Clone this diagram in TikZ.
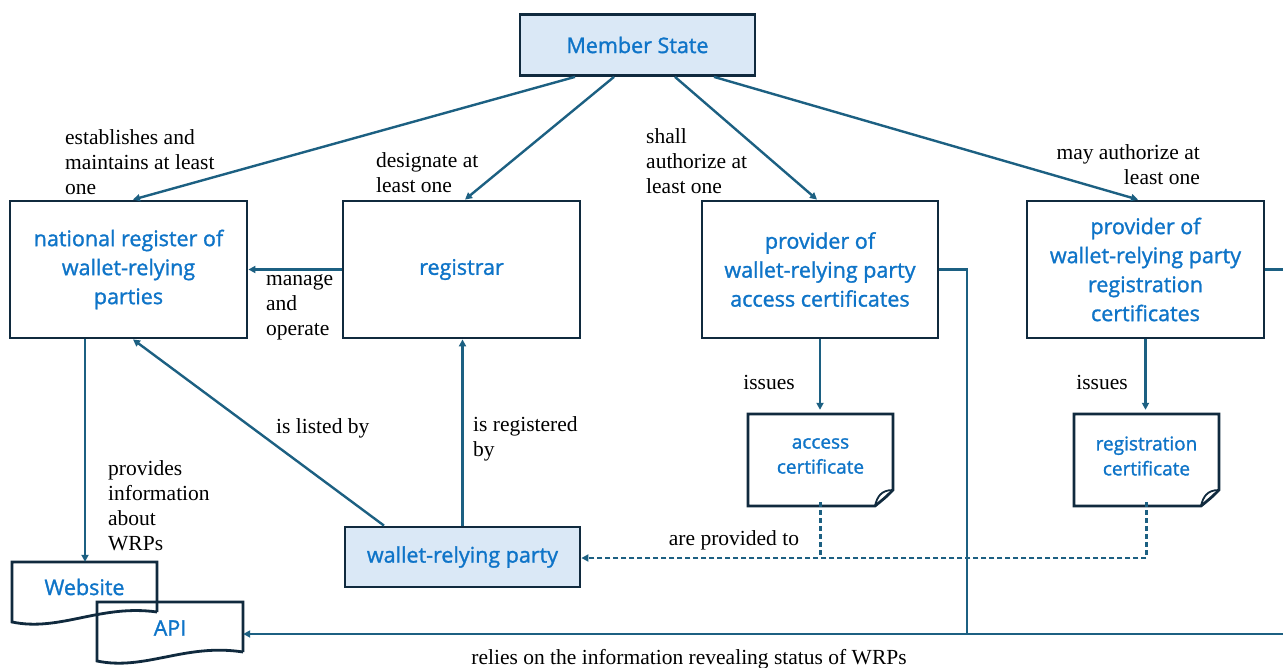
\documentclass[tikz,border=0pt]{standalone}
\usepackage{fontspec}
\setmainfont{Liberation Serif}
\newfontfamily\bluefont[FakeBold=1.3]{Open Sans}
\usetikzlibrary{arrows.meta,calc}
\definecolor{linec}{RGB}{28,96,130}
\definecolor{boxc}{RGB}{16,42,62}
\definecolor{txtblue}{RGB}{14,116,200}
\definecolor{fillb}{RGB}{218,232,246}
\begin{document}
\begin{tikzpicture}[x=1pt,y=-1pt,
  box/.style={draw=boxc,line width=2.8pt,inner sep=2pt,align=center,
    font=\bluefont\fontsize{21.5}{29}\selectfont,text=txtblue},
  certtext/.style={inner sep=0pt,align=center,
    font=\bluefont\fontsize{19}{25}\selectfont,text=txtblue},
  lbl/.style={inner sep=0pt,font=\fontsize{21.5}{25}\selectfont,text=black},
  conn/.style={draw=linec,line width=2.4pt,-{Triangle[length=7pt,width=7pt]}},
  plain/.style={draw=linec,line width=2.4pt},
  dconn/.style={draw=linec,line width=2.2pt,dash pattern=on 5pt off 3pt}
]
\useasboundingbox (0,0) rectangle (1283,668);
\fill[white] (0,0) rectangle (1283,668);

% main boxes
\node[box,fill=fillb,minimum width=235,minimum height=61] (ms) at (637.5,45) {Member State};
\node[box,minimum width=237,minimum height=137] (nr) at (128.5,269.5) {national register of\\wallet-relying\\parties};
\node[box,minimum width=237,minimum height=137] (reg) at (461.5,269.5) {registrar};
\node[box,minimum width=236,minimum height=137] (pac) at (820,269.5) {provider of\\wallet-relying party\\access certificates};
\node[box,minimum width=237,minimum height=137] (prc) at (1145.5,269.5) {provider of\\wallet-relying party\\registration\\certificates};
\node[box,fill=fillb,minimum width=235,minimum height=60] (wrp) at (462.5,557) {wallet-relying party};

% certificate shapes
\node[certtext,minimum width=145,minimum height=92] (ac) at (820.5,456) {access\\certificate};
\draw[boxc,line width=2.8pt,line join=miter] (748,414) -- (893,414) -- (893,490) .. controls (886,497) .. (875,506) -- (748,506) -- cycle;
\draw[boxc,line width=1.8pt] (893,490) .. controls (881,490) and (877,497) .. (875,506);
\node[certtext,minimum width=145,minimum height=92] (rc) at (1146.5,456) {registration\\certificate};
\draw[boxc,line width=2.8pt,line join=miter] (1074,414) -- (1219,414) -- (1219,490) .. controls (1212,497) .. (1201,506) -- (1074,506) -- cycle;
\draw[boxc,line width=1.8pt] (1219,490) .. controls (1207,490) and (1203,497) .. (1201,506);

% document shapes
\node[certtext,font=\bluefont\fontsize{21.5}{29}\selectfont,minimum width=145,minimum height=50] (web) at (84.5,587) {Website};
\draw[boxc,line width=2.8pt,line join=miter] (157,612) -- (157,562) -- (12,562) -- (12,622) .. controls (60,632) and (100,604) .. (157,612);
\node[certtext,font=\bluefont\fontsize{21.5}{29}\selectfont,minimum width=146,minimum height=50] (api) at (170,628) {API};
\draw[boxc,line width=2.8pt,line join=miter] (243,652) -- (243,602) -- (97,602) -- (97,661) .. controls (145,671) and (185,643) .. (243,652);

% connectors from Member State
\draw[conn] ([xshift=-62.5pt]ms.south) -- ([xshift=4.5pt]nr.north);
\draw[conn] ([xshift=-23.5pt]ms.south) -- ([xshift=3.5pt]reg.north);
\draw[conn] ([xshift=37.5pt]ms.south) -- ([xshift=-3pt]pac.north);
\draw[conn] ([xshift=76.5pt]ms.south) -- ([xshift=-7.5pt]prc.north);

\draw[conn] (reg.west) -- (nr.east);
\draw[conn] ([xshift=-43.5pt]nr.south) -- ([xshift=-43.5pt]nr.south |- web.north);
\draw[conn] ([xshift=-78.5pt]wrp.north) -- ([xshift=4.5pt]nr.south);
\draw[conn] (wrp.north) -- (wrp.north |- reg.south);
\draw[conn] (pac.south) -- (pac.south |- ac.north);
\draw[conn] (prc.south) -- (prc.south |- rc.north);

% dashed
\coordinate (dj) at (820.5,558);
\draw[dconn] (ac.south) -- (ac.south |- dj);
\draw[dconn,-{Triangle[length=7pt,width=7pt]}] (rc.south) |- ([yshift=-1pt]wrp.east);

% status line
\coordinate (bj) at (967,634);
\coordinate (rtop) at (1295,269.5);
\coordinate (rbot) at (1295,634);
\draw[plain] (pac.east) -| (bj);
\draw[conn] (prc.east) -- (rtop) -- (rbot) -- ([yshift=-6pt]api.east);

% labels
\node[lbl,anchor=west,align=left] at (65,162) {establishes and\\maintains at least\\one};
\node[lbl,anchor=west,align=left] at (376,172.5) {designate at\\least one};
\node[lbl,anchor=west,align=left] at (646,161) {shall\\authorize at\\least one};
\node[lbl,anchor=east,align=right] at (1200,165) {may authorize at\\least one};
\node[lbl,anchor=west,align=left] at (266,307) {manage\\and\\operate};
\node[lbl,anchor=west,align=left] at (108,506) {provides\\information\\about\\WRPs};
\node[lbl,anchor=west] at (276,428) {is listed by};
\node[lbl,anchor=west,align=left] at (473,439) {is registered\\by};
\node[lbl] at (769,382) {issues};
\node[lbl] at (1102,382) {issues};
\node[lbl] at (734,540) {are provided to};
\node[lbl] at (689,659) {relies on the information revealing status of WRPs};
\end{tikzpicture}
\end{document}
